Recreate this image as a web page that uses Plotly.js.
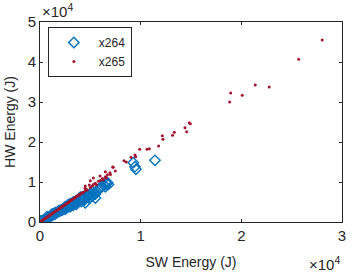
<!DOCTYPE html>
<html><head><meta charset="utf-8">
<script src="https://cdn.plot.ly/plotly-3.0.1.min.js"></script>
<style>html,body{margin:0;padding:0;background:#fff}#c{width:354px;height:275px}</style>
</head><body><div id="c"></div>
<script>
const seriesNames = ["x264", "x265"];
const xTickVals = [0, 10000, 20000, 30000];
const xTickText = ["0", "1", "2", "3"];
const yTickVals = [0, 10000, 20000, 30000, 40000, 50000];
const yTickText = ["0", "1", "2", "3", "4", "5"];

const x264_sw = [50,80,150,100,200,300,400,500,600,700,800,900,1000,1100,1200,1300,1400,1500,1600,1700,1800,1900,2000,2100,2200,2300,2400,2500,2600,2700,2800,2900,3000,3100,3200,3300,3400,3500,3600,3700,3800,3900,4000,4100,4200,4300,4400,4500,4600,4700,4800,4900,5000,5100,5200,5400,5500,5600,5800,5900,6000,6200,6400,6500,6600,6700,6800,5500,5200,3000,2500,1500,4300,3600,5460,6550,6680,9270,9430,9530,11420,700,1200,1900,2800,3300,4000];
const x264_hw = [50,200,100,150,300,420,500,700,850,900,1100,1250,1400,1500,1700,1800,2100,2000,2300,2400,2600,2700,2800,3000,2900,3300,3400,3200,3700,3600,3900,4100,3800,4300,4500,4200,4700,4900,4400,5200,5000,5400,5600,5100,5800,6000,5500,4800,6300,6200,6600,5900,6900,7100,6500,7200,7000,7600,8000,8300,8600,8900,9200,8800,9600,9800,9400,6000,7600,4600,3800,2300,6300,5300,7170,10000,9830,14830,13830,13170,15420,1300,2000,2900,4300,5000,6200];

const x265_sw = [100,200,300,400,500,600,700,800,900,1000,1100,1200,1300,1400,1500,1600,1700,1800,1900,2000,2100,2200,2300,2400,2500,2600,2700,2800,2900,3000,3100,3200,3300,3400,3500,3600,3700,3800,3900,4000,4100,4200,4300,4470,4500,4600,4700,4900,5000,5200,5300,5500,5600,5800,5960,6000,6200,6300,6490,6500,6600,6700,6950,7000,7220,7280,7480,5300,5000,4500,8340,8570,9040,9430,9500,9900,10630,10860,11780,12210,12150,13170,13340,14400,14570,14830,14930,18840,18940,20090,21380,22770,25690,28030];
const x265_hw = [180,350,520,700,870,1050,1200,1400,1600,1750,1900,2100,2250,2450,2600,2800,2950,3150,3300,3500,3650,3850,4000,4200,4350,4550,4700,4900,5000,5300,5400,5600,5800,5900,6200,6300,6500,6600,6900,7000,7200,7400,7300,8420,7800,8100,8000,9250,8600,9000,9400,9700,9300,10200,11500,10400,10900,10500,12580,11300,11000,11800,12330,11900,13750,13670,12750,11000,10300,9000,15330,15000,16170,16750,16330,18170,18170,18330,19000,20670,21580,21670,22420,23580,22580,24830,24580,30000,32250,31680,34250,33750,40680,45500];

const font = {family: "Liberation Sans, Arial, sans-serif", color: "#262626"};
const traces = [
  {x: x264_sw, y: x264_hw, name: seriesNames[0], type: "scatter", mode: "markers",
   marker: {symbol: "diamond-open", size: 8, color: "#0072BD", line: {width: 1.4, color: "#0072BD"}}},
  {x: x265_sw, y: x265_hw, name: seriesNames[1], type: "scatter", mode: "markers",
   marker: {symbol: "circle", size: 3, color: "#A2142F"}}
];
const axisCommon = {showline: true, linecolor: "#262626", linewidth: 1, mirror: "ticks", ticks: "inside",
  ticklen: 3, tickcolor: "#262626", showgrid: false, zeroline: false, tickfont: Object.assign({size: 15}, font), fixedrange: true};
const layout = {
  width: 354, height: 275,
  margin: {l: 40, r: 12, t: 22, b: 53},
  paper_bgcolor: "#fff", plot_bgcolor: "#fff",
  showlegend: true,
  legend: {x: 0.026, y: 0.975, xanchor: "left", yanchor: "top", bordercolor: "#262626", borderwidth: 1,
    bgcolor: "#fff", font: Object.assign({size: 12}, font), itemwidth: 40, tracegroupgap: 0},
  xaxis: Object.assign({}, axisCommon, {range: [0, 30000], tickvals: xTickVals, ticktext: xTickText,
    title: {text: "SW Energy (J)", font: Object.assign({size: 14}, font), standoff: 14}}),
  yaxis: Object.assign({}, axisCommon, {range: [0, 50000], tickvals: yTickVals, ticktext: yTickText,
    title: {text: "HW Energy (J)", font: Object.assign({size: 14}, font), standoff: 8}}),
  annotations: [
    {xref: "paper", yref: "paper", x: 0, y: 1, xanchor: "left", yanchor: "bottom", yshift: 0, showarrow: false,
     text: "×10<sup>4</sup>", font: Object.assign({size: 15}, font)},
    {xref: "paper", yref: "paper", x: 1, y: 0, xanchor: "right", yanchor: "top", yshift: -30, showarrow: false,
     text: "×10<sup>4</sup>", font: Object.assign({size: 15}, font)}
  ]
};
Plotly.newPlot("c", traces, layout, {displayModeBar: false, staticPlot: true});
</script></body></html>
